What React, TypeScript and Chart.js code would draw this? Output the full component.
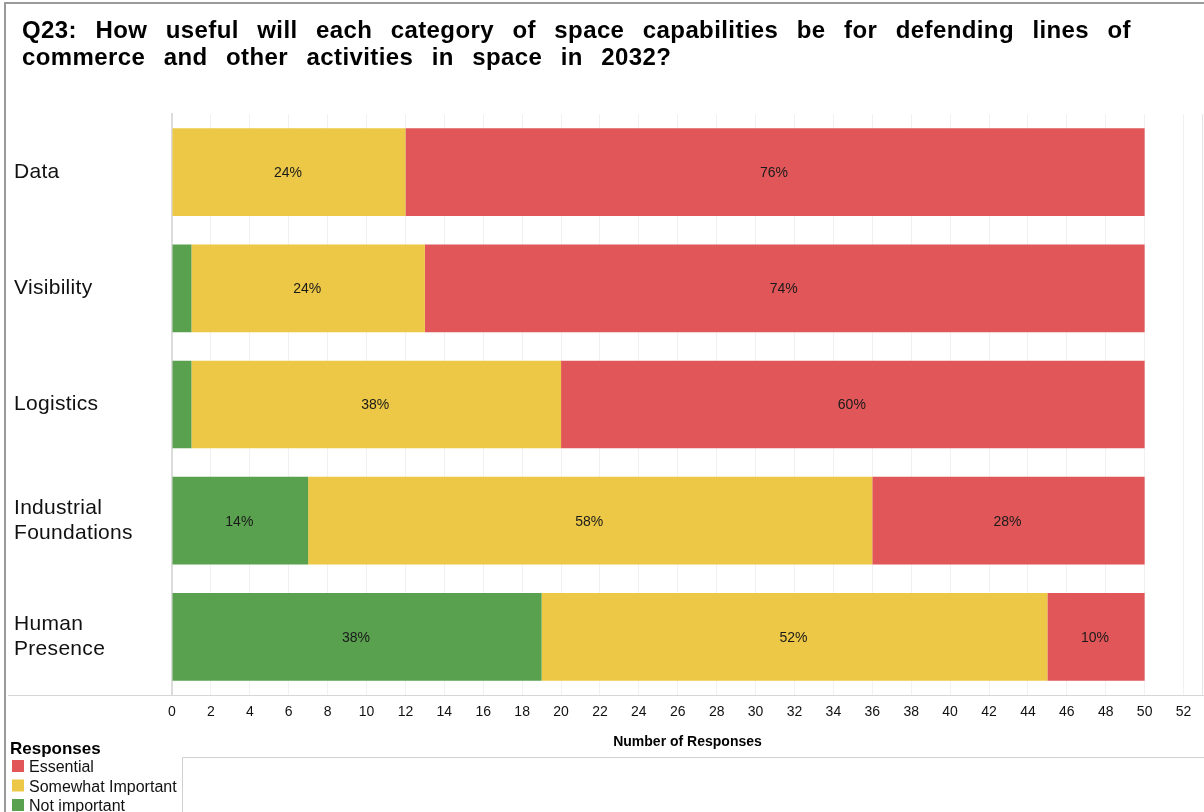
import { useEffect, useRef } from "react";
import { Chart, registerables } from "chart.js";

Chart.register(...registerables);

const titleLines = [
  "Q23: How useful will each category of space capabilities be for defending lines of",
  "commerce and other activities in space in 2032?",
];
const categories = [
  ["Data"],
  ["Visibility"],
  ["Logistics"],
  ["Industrial", "Foundations"],
  ["Human", "Presence"],
];
const seriesNames = ["Not important", "Somewhat Important", "Essential"];
const notImportant = [0, 1, 1, 7, 19];
const somewhatImportant = [12, 12, 19, 29, 26];
const essential = [38, 37, 30, 14, 5];
const xTickValues = [0, 2, 4, 6, 8, 10, 12, 14, 16, 18, 20, 22, 24, 26, 28, 30, 32, 34, 36, 38, 40, 42, 44, 46, 48, 50, 52];
const xMax = 53;
const xAxisTitle = "Number of Responses";
const legendTitle = "Responses";
const legendOrder = ["Essential", "Somewhat Important", "Not important"];

const colors: Record<string, string> = {
  "Not important": "#59A14F",
  "Somewhat Important": "#ECC846",
  Essential: "#E15759",
};

const FONT = "Arial, 'Liberation Sans', sans-serif";

function setLS(ctx: any, v: string) {
  if ("letterSpacing" in ctx) ctx.letterSpacing = v;
}

const decorPlugin = {
  id: "decor",
  beforeDraw(chart: any) {
    const ctx = chart.ctx as CanvasRenderingContext2D;
    const ca = chart.chartArea;
    ctx.save();
    ctx.strokeStyle = "#e4e4e4";
    ctx.lineWidth = 1;
    ctx.beginPath();
    ctx.moveTo(ca.right - 0.5, ca.top);
    ctx.lineTo(ca.right - 0.5, ca.bottom);
    ctx.stroke();
    ctx.restore();
  },
  afterDraw(chart: any) {
    const ctx = chart.ctx as CanvasRenderingContext2D;
    const ca = chart.chartArea;
    const W = chart.width;
    const H = chart.height;
    ctx.save();
    // frame
    ctx.strokeStyle = "#9a9a9a";
    ctx.lineWidth = 2;
    ctx.beginPath();
    ctx.moveTo(5, H);
    ctx.lineTo(5, 3);
    ctx.lineTo(W, 3);
    ctx.stroke();

    // extended x axis line
    ctx.strokeStyle = "#d6d6d6";
    ctx.lineWidth = 1;
    ctx.beginPath();
    ctx.moveTo(8, ca.bottom + 0.5);
    ctx.lineTo(W, ca.bottom + 0.5);
    ctx.stroke();

    // legend box lines
    ctx.strokeStyle = "#d0d0d0";
    ctx.beginPath();
    ctx.moveTo(182.5, H);
    ctx.lineTo(182.5, 757.5);
    ctx.lineTo(W, 757.5);
    ctx.stroke();

    // title (justified first line)
    ctx.fillStyle = "#000";
    ctx.font = `bold 24px ${FONT}`;
    setLS(ctx, "0.4px");
    ctx.textBaseline = "alphabetic";
    const x0 = 22;
    const x1 = 1131;
    const words1 = titleLines[0].split(" ");
    const wsum = words1.reduce((a, w) => a + ctx.measureText(w).width, 0);
    const gap = (x1 - x0 - wsum) / (words1.length - 1);
    let x = x0;
    words1.forEach((w) => {
      ctx.fillText(w, x, 38);
      x += ctx.measureText(w).width + gap;
    });
    const words2 = titleLines[1].split(" ");
    x = x0;
    words2.forEach((w) => {
      ctx.fillText(w, x, 65);
      x += ctx.measureText(w).width + gap;
    });

    // category labels
    const yScale = chart.scales.y;
    ctx.font = `21px ${FONT}`;
    setLS(ctx, "0.3px");
    ctx.textBaseline = "middle";
    ctx.fillStyle = "#111";
    categories.forEach((lines, i) => {
      const cy = yScale.getPixelForValue(i);
      const lh = 25;
      const start = cy - ((lines.length - 1) * lh) / 2;
      lines.forEach((ln, j) => ctx.fillText(ln, 14, start + j * lh));
    });

    // x axis title
    ctx.font = `bold 14px ${FONT}`;
    setLS(ctx, "0px");
    ctx.textAlign = "center";
    ctx.fillStyle = "#000";
    ctx.fillText(xAxisTitle, (ca.left + ca.right) / 2, 742);

    // legend
    ctx.textAlign = "left";
    ctx.font = `bold 17px ${FONT}`;
    ctx.textBaseline = "alphabetic";
    ctx.fillText(legendTitle, 10, 754);
    ctx.font = `16px ${FONT}`;
    legendOrder.forEach((name, i) => {
      const top = 760 + i * 19.5;
      ctx.fillStyle = colors[name];
      ctx.fillRect(12, top, 12, 12);
      ctx.fillStyle = "#111";
      ctx.fillText(name, 29, top + 12);
    });
    ctx.restore();
  },
  afterDatasetsDraw(chart: any) {
    const ctx = chart.ctx as CanvasRenderingContext2D;
    ctx.save();
    ctx.font = `14px ${FONT}`;
    ctx.fillStyle = "#1a1a1a";
    ctx.textAlign = "center";
    ctx.textBaseline = "middle";
    const nCat = categories.length;
    for (let i = 0; i < nCat; i++) {
      const total = chart.data.datasets.reduce((a: number, d: any) => a + d.data[i], 0);
      chart.data.datasets.forEach((d: any, di: number) => {
        const v = d.data[i];
        const pct = Math.round((v / total) * 100);
        if (pct < 5) return;
        const el = chart.getDatasetMeta(di).data[i] as any;
        ctx.fillText(`${pct}%`, (el.x + el.base) / 2 - 1, el.y + 1);
      });
    }
    ctx.restore();
  },
};

export default function App() {
  const ref = useRef<HTMLCanvasElement | null>(null);
  useEffect(() => {
    if (!ref.current) return;
    const chart = new Chart(ref.current, {
      type: "bar",
      data: {
        labels: categories.map((c) => c.join(" ")),
        datasets: [
          { label: seriesNames[0], data: notImportant, backgroundColor: colors[seriesNames[0]] },
          { label: seriesNames[1], data: somewhatImportant, backgroundColor: colors[seriesNames[1]] },
          { label: seriesNames[2], data: essential, backgroundColor: colors[seriesNames[2]] },
        ],
      },
      options: {
        indexAxis: "y",
        responsive: false,
        animation: false,
        layout: { padding: { left: 172, right: 1, top: 114, bottom: 0 } },
        datasets: { bar: { barPercentage: 0.755, categoryPercentage: 1, borderWidth: 0 } },
        plugins: {
          legend: { display: false },
          title: { display: false },
          tooltip: { enabled: false },
        },
        scales: {
          x: {
            type: "linear",
            stacked: true,
            min: 0,
            max: xMax,
            afterBuildTicks: (s: any) => {
              s.ticks = xTickValues.map((v) => ({ value: v }));
            },
            afterFit: (s: any) => {
              s.height = 117;
            },
            grid: { color: "#f1f1f1", drawTicks: false, lineWidth: 1 },
            border: { display: true, color: "#d6d6d6" },
            ticks: {
              padding: 9,
              font: { family: FONT, size: 14 },
              color: "#111",
              maxRotation: 0,
              autoSkip: false,
            },
          },
          y: {
            type: "category",
            stacked: true,
            grid: { display: false },
            border: { display: true, color: "#dcdcdc", width: 2 },
            ticks: { display: false },
            afterFit: (s: any) => {
              s.width = 0;
            },
          },
        },
      },
      plugins: [decorPlugin],
    });
    return () => chart.destroy();
  }, []);
  return (
    <div style={{ position: "absolute", left: 0, top: 0, width: 1204, height: 812, background: "#fff" }}>
      <canvas ref={ref} width={1204} height={812} style={{ display: "block" }} />
    </div>
  );
}
